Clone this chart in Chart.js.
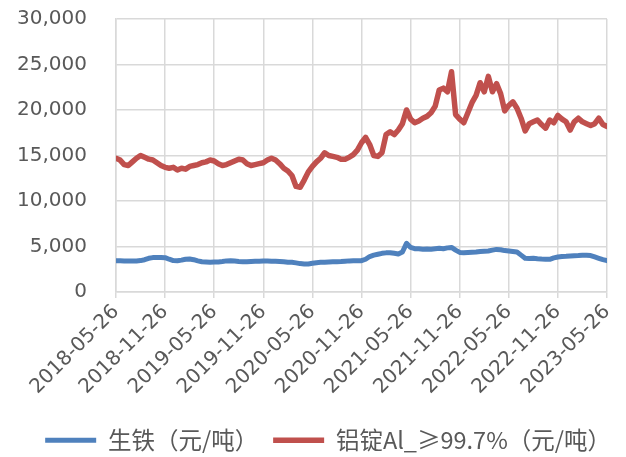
<!DOCTYPE html>
<html>
<head>
<meta charset="utf-8">
<script src="https://cdn.jsdelivr.net/npm/chart.js@4/dist/chart.umd.min.js"></script>
<style>
  html, body { margin: 0; padding: 0; background: #ffffff; }
  #wrap { width: 626px; height: 457px; }
</style>
</head>
<body>
<div id="wrap"><canvas id="chart" width="626" height="457"></canvas></div>
<script>
// Half-monthly observations from 2018-05-26 to 2023-05-26 (121 points, index 0..120)
const tickLabels = [
  '2018-05-26', '2018-11-26', '2019-05-26', '2019-11-26', '2020-05-26', '2020-11-26',
  '2021-05-26', '2021-11-26', '2022-05-26', '2022-11-26', '2023-05-26'
];

const seriesNames = ['生铁（元/吨）', '铝锭Al_≥99.7%（元/吨）'];

// 生铁 (元/吨)
const pigIron = [
  3440, 3430, 3420, 3410, 3400, 3400, 3450, 3550, 3700, 3780,
  3800, 3800, 3770, 3600, 3450, 3430, 3500, 3600, 3620, 3550,
  3420, 3320, 3300, 3280, 3300, 3300, 3350, 3420, 3440, 3400,
  3350, 3330, 3330, 3350, 3370, 3380, 3400, 3400, 3380, 3370,
  3350, 3320, 3280, 3260, 3200, 3120, 3080, 3080, 3150, 3220,
  3260, 3280, 3300, 3320, 3330, 3340, 3380, 3420, 3440, 3440,
  3440, 3600, 3900, 4050, 4150, 4250, 4300, 4320, 4250, 4180,
  4400, 5350, 4900, 4760, 4750, 4700, 4720, 4700, 4750, 4800,
  4750, 4850, 4900, 4600, 4350, 4320, 4350, 4380, 4400, 4450,
  4480, 4500, 4600, 4680, 4650, 4550, 4500, 4450, 4400, 4050,
  3700, 3680, 3700, 3650, 3620, 3600, 3590, 3750, 3850, 3900,
  3920, 3950, 3980, 4000, 4030, 4030, 4000, 3850, 3700, 3550,
  3440
];

// 铝锭Al_≥99.7% (元/吨)
const aluminium = [
  14700, 14500, 14000, 13900, 14300, 14700, 15000, 14800, 14600, 14500,
  14200, 13900, 13700, 13600, 13700, 13400, 13600, 13500, 13800, 13900,
  14000, 14200, 14300, 14500, 14400, 14100, 13900, 14000, 14200, 14400,
  14600, 14500, 14100, 13900, 14000, 14100, 14200, 14500, 14700, 14500,
  14100, 13600, 13300, 12800, 11600, 11500, 12300, 13200, 13800, 14300,
  14700, 15300, 15000, 14900, 14800, 14600, 14600, 14800, 15100, 15600,
  16400, 17000, 16200, 15000, 14900, 15300, 17300, 17600, 17300, 17800,
  18500, 20000, 19000, 18600, 18800, 19100, 19300, 19700, 20400, 22200,
  22400, 22000, 24200, 19500, 19000, 18600, 19700, 20800, 21600, 23000,
  22000, 23700, 22000, 22900, 21800, 19900, 20500, 20900, 20200, 19100,
  17700, 18500, 18700, 18900, 18400, 18000, 18900, 18600, 19400, 19000,
  18700, 17800, 18700, 19100, 18700, 18500, 18300, 18500, 19100, 18400,
  18200
];

const BLUE = '#4F81BD';
const RED = '#C0504D';
const GRID = '#D9D9D9';
const TEXT = '#595959';
const TICK_FONT = "'DejaVu Sans', sans-serif";
const LEGEND_FONT = "'Noto Sans CJK SC', sans-serif";

const toPoints = arr => arr.map((v, i) => ({ x: i, y: v }));

new Chart(document.getElementById('chart'), {
  type: 'line',
  data: {
    datasets: [
      { label: seriesNames[0], data: toPoints(pigIron), borderColor: BLUE, backgroundColor: BLUE,
        borderWidth: 5, borderCapStyle: 'round', borderJoinStyle: 'round', pointRadius: 0, tension: 0 },
      { label: seriesNames[1], data: toPoints(aluminium), borderColor: RED, backgroundColor: RED,
        borderWidth: 5.5, borderCapStyle: 'round', borderJoinStyle: 'round', pointRadius: 0, tension: 0 }
    ]
  },
  options: {
    responsive: false,
    animation: false,
    devicePixelRatio: 1,
    layout: { padding: { top: 19, right: 0, left: 0, bottom: -5 } },
    plugins: {
      tooltip: { enabled: false },
      legend: {
        position: 'bottom',
        align: 'end',
        labels: {
          usePointStyle: true, pointStyle: 'line', pointStyleWidth: 51, boxHeight: 5,
          padding: 15, color: TEXT, font: { family: LEGEND_FONT, size: 23.5 }
        }
      }
    },
    scales: {
      x: {
        type: 'linear', min: 0, max: 120,
        afterFit: s => { s.height = 121.5; },
        afterBuildTicks: s => { s.ticks = tickLabels.map((_, k) => ({ value: k * 12 })); },
        ticks: {
          autoSkip: false, minRotation: 45, maxRotation: 45, color: TEXT, padding: 2,
          font: { family: TICK_FONT, size: 20 },
          callback: v => tickLabels[Math.round(v / 12)]
        },
        grid: { color: GRID, lineWidth: 1.5, tickLength: 6, tickColor: GRID },
        border: { color: GRID, width: 1.5 }
      },
      y: {
        min: 0, max: 30000,
        afterFit: s => { s.width = 116; },
        ticks: {
          stepSize: 5000, color: TEXT, padding: 0,
          font: { family: TICK_FONT, size: 20 },
          callback: v => v.toLocaleString('en-US')
        },
        // tick marks are invisible; their length sets the gap between labels and the axis
        grid: { color: GRID, lineWidth: 1.5, drawTicks: true, tickLength: 29, tickColor: 'rgba(0,0,0,0)' },
        border: { color: GRID, width: 1.5 }
      },
      // blank right-hand margin beside the plot
      yRight: {
        position: 'right', min: 0, max: 30000,
        afterFit: s => { s.width = 19; },
        ticks: { display: false },
        grid: { display: false },
        border: { display: false }
      }
    }
  }
});
</script>
</body>
</html>
